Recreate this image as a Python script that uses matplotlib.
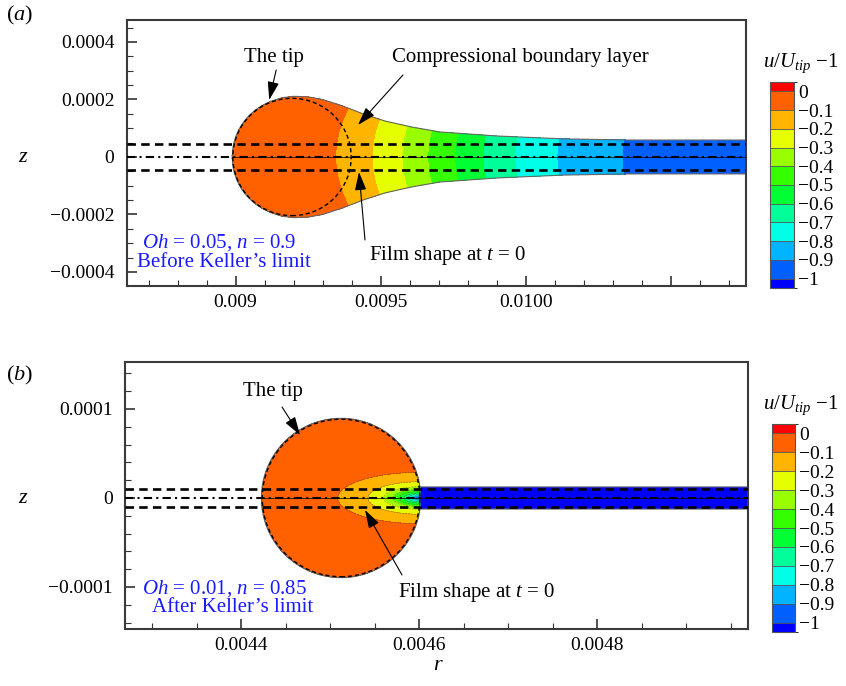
import numpy as np
import matplotlib
matplotlib.use('Agg')
import matplotlib.pyplot as plt
from matplotlib import patches, colors as mcolors, cm
from matplotlib.ticker import MultipleLocator

plt.rcParams['font.family'] = ['Liberation Serif', 'DejaVu Serif']
plt.rcParams['mathtext.fontset'] = 'custom'
plt.rcParams['mathtext.rm'] = 'Liberation Serif'
plt.rcParams['mathtext.it'] = 'Liberation Serif:italic'

# colour bands of u/U_tip - 1 (same legend for both panels)
band_bounds = [-1.05, -1.0, -0.9, -0.8, -0.7, -0.6, -0.5, -0.4, -0.3, -0.2, -0.1, 0.0, 0.05]
band_colors = ['#0000ff', '#005fff', '#00b4ff', '#00ffe6', '#00ff99', '#00ff33',
               '#33ff00', '#99ff00', '#e6ff00', '#ffb400', '#ff6000', '#ff0000']
cbar_ticks = [0, -0.1, -0.2, -0.3, -0.4, -0.5, -0.6, -0.7, -0.8, -0.9, -1.0]
cbar_labels = ['0', '\u22120.1', '\u22120.2', '\u22120.3', '\u22120.4', '\u22120.5',
               '\u22120.6', '\u22120.7', '\u22120.8', '\u22120.9', '\u22121']

# ---- panel (a): Oh = 0.05, n = 0.9
a_xlim = (0.0086255, 0.01076)
a_ylim = (-0.0004487, 0.0004765)
a_xticks = [0.009, 0.0095, 0.0100, 0.0105]
a_xticklabels = ['0.009', '0.0095', '0.0100', '']
a_yticks = [-0.0004, -0.0002, 0.0, 0.0002, 0.0004]
a_yticklabels = ['\u22120.0004', '\u22120.0002', '0', '0.0002', '0.0004']
a_tip_center = 0.0091945
a_tip_radius = 0.000204
a_shape_radius = 0.000206
a_neck_r = [0.009080, 0.009120, 0.009160, 0.009200, 0.009250, 0.009300, 0.009370,
            0.009436, 0.009515, 0.009608, 0.009705, 0.009901, 0.010129, 0.010360,
            0.010800]
a_neck_h = [0.000171, 0.000193, 0.000206, 0.000211, 0.000209, 0.000200, 0.000177,
            0.000151, 0.000125, 0.000104, 0.000087, 0.000073, 0.000063, 0.000059,
            0.000059]
a_film0 = 0.000045
# centreline position where each level is crossed
a_level_r = [0.0086, 0.009346, 0.009471, 0.009574, 0.009663, 0.009756,
             0.009853, 0.009963, 0.010108, 0.010332, 0.0108]
a_level_v = [-0.05, -0.1, -0.2, -0.3, -0.4, -0.5, -0.6, -0.7, -0.8, -0.9, -0.95]
a_curv = 1500.0

# ---- panel (b): Oh = 0.01, n = 0.85
b_xlim = (0.0042697, 0.0049697)
b_ylim = (-0.0001472, 0.0001528)
b_xticks = [0.0044, 0.0046, 0.0048]
b_xticklabels = ['0.0044', '0.0046', '0.0048']
b_yticks = [-0.0001, 0.0, 0.0001]
b_yticklabels = ['\u22120.0001', '0', '0.0001']
b_tip_center = 0.0045124
b_tip_radius = 0.0000885
b_shape_radius = 0.0000895
b_film = 0.0000125
b_film0 = 0.0000100
# level crossings as (stretched) distance from the neck
b_neck = 0.0046010
b_stretch = 3.2
b_level_d = [0.0, 2.2e-6, 5.6e-6, 9.0e-6, 1.35e-5, 1.8e-5, 2.36e-5,
             3.03e-5, 4.04e-5, 5.84e-5, 9.21e-5, 3.0e-4]
b_level_v = [-1.02, -1.0, -0.9, -0.8, -0.7, -0.6, -0.5, -0.4, -0.3, -0.2, -0.1, -0.05]

fig = plt.figure(figsize=(8.46, 6.86), dpi=100)
ax_a = fig.add_axes([0.1501, 0.5831, 0.7317, 0.3878])
ax_b = fig.add_axes([0.1478, 0.0831, 0.7364, 0.3892])
cax_a = fig.add_axes([0.9102, 0.5802, 0.0284, 0.3003])
cax_b = fig.add_axes([0.9125, 0.0787, 0.0272, 0.3032])

cmap = mcolors.ListedColormap(band_colors)
norm = mcolors.BoundaryNorm(band_bounds, cmap.N)


def style_axes(ax, xlim, ylim, xt, xtl, yt, ytl, xminor, yminor):
    ax.set_xlim(*xlim)
    ax.set_ylim(*ylim)
    ax.set_xticks(xt)
    ax.set_xticklabels(xtl)
    ax.set_yticks(yt)
    ax.set_yticklabels(ytl)
    ax.xaxis.set_minor_locator(MultipleLocator(xminor))
    ax.yaxis.set_minor_locator(MultipleLocator(yminor))
    ax.tick_params(which='both', direction='in', colors='#333333', labelcolor='black',
                   labelsize=14, top=False, right=False)
    ax.tick_params(which='major', length=7, width=1.2)
    ax.tick_params(which='minor', length=4, width=0.8)
    ax.tick_params(axis='y', pad=9)
    ax.tick_params(axis='x', pad=6)
    for sp in ax.spines.values():
        sp.set_color('#3a3a3a')
        sp.set_linewidth(1.5)


def draw_lines(ax, film0, tip_left):
    for y in (film0, -film0):
        ax.axhline(y, color='black', lw=1.9, ls=(0, (3.2, 2.0)), zorder=5)
    ax.plot([tip_left, ax.get_xlim()[1]], [0, 0], color='black', lw=0.5, zorder=4)
    ax.axhline(0, color='black', lw=1.5, ls=(0, (4, 2, 1, 2)), zorder=5)


def arrow(ax, tail, head):
    ax.annotate('', xy=head, xytext=tail,
                arrowprops=dict(arrowstyle='-|>,head_length=0.8,head_width=0.25',
                                mutation_scale=14, lw=0.8, color='black',
                                shrinkA=0, shrinkB=0), zorder=6)


def colorbar(cax):
    sm = cm.ScalarMappable(norm=norm, cmap=cmap)
    cb = fig.colorbar(sm, cax=cax, boundaries=band_bounds, ticks=cbar_ticks,
                      spacing='proportional', drawedges=True)
    cb.ax.set_yticklabels(cbar_labels)
    cb.ax.tick_params(length=0, labelsize=14, pad=3)
    cb.outline.set_linewidth(0.8)
    cb.outline.set_edgecolor('#555555')
    cb.dividers.set_linewidth(0.6)
    cb.dividers.set_color('#555555')


# ---------------- panel (a)
style_axes(ax_a, a_xlim, a_ylim, a_xticks, a_xticklabels, a_yticks, a_yticklabels,
           0.0001, 0.00005)
r = np.linspace(a_xlim[0], a_xlim[1], 1500)
z = np.linspace(-0.00025, 0.00025, 900)
R, Z = np.meshgrid(r, z)
inside = ((R - a_tip_center) ** 2 + Z ** 2 <= a_shape_radius ** 2) | \
         ((R >= a_neck_r[0]) & (np.abs(Z) <= np.interp(R, a_neck_r, a_neck_h)))
F = np.interp(R - a_curv * Z ** 2, a_level_r, a_level_v)
F = np.ma.masked_where(~inside, F)
ax_a.contourf(R, Z, F, levels=band_bounds, cmap=cmap, norm=norm, zorder=1)
ax_a.contour(R, Z, inside.astype(float), levels=[0.5], colors='#666666',
             linewidths=0.8, zorder=2)
ax_a.add_patch(patches.Circle((a_tip_center, 0), a_tip_radius, fill=False,
                              ec='black', lw=1.0, ls=(0, (3, 2)), zorder=5))
draw_lines(ax_a, a_film0, a_tip_center - a_shape_radius)

ax_a.text(0.0091324, 0.0003443, 'The tip', fontsize=15, ha='center', va='center')
arrow(ax_a, (0.0091400, 0.0003026), (0.0091159, 0.0001983))
ax_a.text(0.0099807, 0.0003443, 'Compressional boundary layer', fontsize=15,
          ha='center', va='center')
arrow(ax_a, (0.0095772, 0.0002852), (0.0094221, 0.0001113))
ax_a.text(0.0097324, -0.0003443, 'Film shape at $t$ = 0', fontsize=15,
          ha='center', va='center')
arrow(ax_a, (0.0094462, -0.0002887), (0.0094255, -0.0000522))
ax_a.text(0.0089428, -0.0002991, '$Oh$ = 0.05, $n$ = 0.9', fontsize=15,
          color='#1a1aff', ha='center', va='center')
ax_a.text(0.0089600, -0.0003687, 'Before Keller\u2019s limit', fontsize=15,
          color='#1a1aff', ha='center', va='center')

# ---------------- panel (b)
style_axes(ax_b, b_xlim, b_ylim, b_xticks, b_xticklabels, b_yticks, b_yticklabels,
           0.00005, 0.00002)
r = np.linspace(b_xlim[0], b_xlim[1], 1500)
z = np.linspace(-0.0001, 0.0001, 900)
R, Z = np.meshgrid(r, z)
inside = ((R - b_tip_center) ** 2 + Z ** 2 <= b_shape_radius ** 2) | \
         ((R >= b_tip_center) & (np.abs(Z) <= b_film))
D = np.sqrt((b_neck - R) ** 2 + (b_stretch * Z) ** 2)
F = np.where(R < b_neck, np.interp(D, b_level_d, b_level_v), b_level_v[0])
F = np.ma.masked_where(~inside, F)
ax_b.contourf(R, Z, F, levels=band_bounds, cmap=cmap, norm=norm, zorder=1)
ax_b.contour(R, Z, F, levels=band_bounds[1:-2], colors='#444444',
             linewidths=0.4, alpha=0.7, zorder=2)
ax_b.contour(R, Z, inside.astype(float), levels=[0.5], colors='#666666',
             linewidths=0.8, zorder=2)
ax_b.add_patch(patches.Circle((b_tip_center, 0), b_tip_radius, fill=False,
                              ec='black', lw=1.0, ls=(0, (3, 2)), zorder=5))
draw_lines(ax_b, b_film0, b_tip_center - b_shape_radius)

ax_b.text(0.0044354, 0.0001191, 'The tip', fontsize=15, ha='center', va='center')
arrow(ax_b, (0.0044461, 0.0001022), (0.0044663, 0.0000708))
ax_b.text(0.0046652, -0.0001067, 'Film shape at $t$ = 0', fontsize=15,
          ha='center', va='center')
arrow(ax_b, (0.0045809, -0.0000865), (0.0045393, -0.0000135))
ax_b.text(0.0043820, -0.0001022, '$Oh$ = 0.01, $n$ = 0.85', fontsize=15,
          color='#1a1aff', ha='center', va='center')
ax_b.text(0.0043904, -0.0001236, 'After Keller\u2019s limit', fontsize=15,
          color='#1a1aff', ha='center', va='center')

colorbar(cax_a)
colorbar(cax_b)

fig.text(0.947, 0.9023, '$u/U_{tip}$ \u22121', fontsize=15, ha='center', va='baseline')
fig.text(0.947, 0.4038, '$u/U_{tip}$ \u22121', fontsize=15, ha='center', va='baseline')
fig.text(0.0236, 0.978, '($a$)', fontsize=16, ha='center', va='center')
fig.text(0.0236, 0.453, '($b$)', fontsize=16, ha='center', va='center')
fig.text(0.027, 0.771, 'z', fontsize=16, style='italic', ha='center', va='center')
fig.text(0.027, 0.274, 'z', fontsize=16, style='italic', ha='center', va='center')
fig.text(0.5165, 0.0306, 'r', fontsize=16, style='italic', ha='center', va='center')

fig.savefig('out.png', dpi=100)
